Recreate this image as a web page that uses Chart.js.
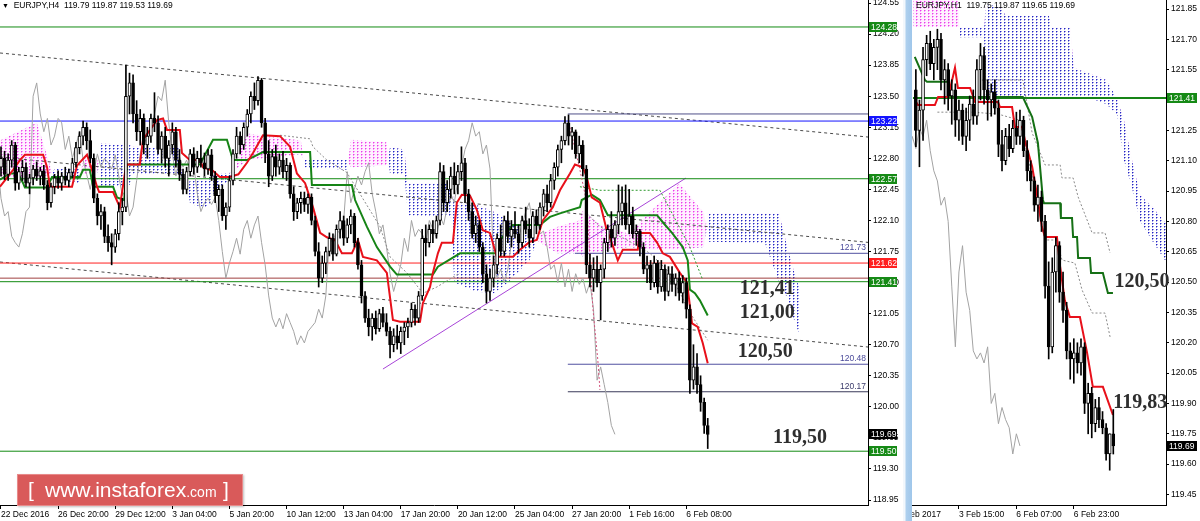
<!DOCTYPE html>
<html><head><meta charset="utf-8">
<script src="https://cdn.jsdelivr.net/npm/chart.js@4.4.1/dist/chart.umd.min.js"></script>
<style>
html,body{margin:0;padding:0;background:#fff;width:1200px;height:521px;overflow:hidden;position:relative;}
#cR{position:absolute;left:895px;top:0;z-index:1}
#mask{position:absolute;left:895px;top:0;width:8px;height:521px;background:#fff;z-index:2}
#cL{position:absolute;left:0;top:0;z-index:3}
#sep{position:absolute;left:903px;top:0;width:9px;height:521px;background:linear-gradient(to right,#f2f7fc 0,#f2f7fc 2px,#aed0ee 3px,#9fc6ea 100%);z-index:4}
.title{position:absolute;top:0;color:#000;z-index:5;white-space:pre;line-height:11px}
#wm{position:absolute;left:17px;top:474px;width:226px;height:32px;background:#d95a5a;border:1px solid #e88a8a;box-sizing:border-box;z-index:6;color:#fff;font-family:"Liberation Sans",Arial,sans-serif;box-shadow:1px 1px 2px rgba(0,0,0,0.25)}
#wm span{position:absolute;top:4px;font-size:21px;line-height:22px}
</style></head><body>
<canvas id="cL" width="903" height="521"></canvas>
<canvas id="cR" width="305" height="521"></canvas>
<div id="mask"></div><div id="sep"></div>
<div class="title" id="tL" style="left:2px"><span style="font-size:7px">▼</span>  EURJPY,H4  119.79 119.87 119.53 119.69</div>
<div class="title" id="tR" style="left:916px">EURJPY,H1  119.75 119.87 119.65 119.69</div>
<div id="wm"><span style="left:10px">[</span><span style="left:27px">www.instaforex<span style="position:static;font-size:14px">.com</span></span><span style="left:205px">]</span></div>
<script>
// ---------------- LEFT (H4) DATA ----------------
const tickIdxL = [0,16,32,48,64,80,96,112,128,144,160,176,192];
const tickLabL = ["22 Dec 2016","26 Dec 20:00","29 Dec 12:00","3 Jan 04:00","5 Jan 20:00","10 Jan 12:00","13 Jan 04:00","17 Jan 20:00","20 Jan 12:00","25 Jan 04:00","27 Jan 20:00","1 Feb 16:00","6 Feb 08:00"];
const yTicksL = [124.55,124.20,123.85,123.50,123.15,122.80,122.45,122.10,121.75,121.40,121.05,120.70,120.35,120.00,119.65,119.30,118.95];

const openL = [122.70,122.80,122.62,122.78,122.95,122.52,122.65,122.70,122.52,122.58,
122.68,122.60,122.66,122.50,122.30,122.48,122.58,122.52,122.60,122.55,
122.64,122.75,122.92,123.05,123.15,123.00,122.80,122.35,122.15,122.20,
121.92,121.85,121.80,121.95,122.20,122.25,123.50,123.65,123.30,123.10,
123.25,122.95,123.05,123.25,123.20,122.90,123.05,122.80,122.95,123.10,
122.78,122.62,122.45,122.65,122.85,122.70,122.80,122.75,122.68,122.84,
122.60,122.38,122.45,122.15,122.25,122.55,122.85,123.05,122.95,123.15,
123.30,123.50,123.45,123.68,123.20,122.85,122.60,122.82,122.70,122.78,
122.65,122.72,122.40,122.20,122.30,122.35,122.28,122.36,122.10,121.75,
121.45,121.62,121.75,121.90,121.72,122.00,122.10,121.90,122.05,122.15,
121.85,121.60,121.25,121.00,120.90,121.00,120.88,121.05,120.95,120.85,
120.70,120.80,120.72,120.85,120.90,120.95,121.10,121.00,121.25,121.90,
121.85,122.00,121.95,122.10,122.65,122.30,122.45,122.60,122.50,122.65,
122.75,122.40,122.20,121.95,122.05,121.80,121.50,121.30,121.45,121.60,
121.90,121.75,122.10,121.92,122.00,121.95,121.85,122.10,122.00,121.90,
122.15,122.05,122.25,122.40,122.30,122.55,122.70,122.90,123.00,123.20,
123.05,123.10,122.85,122.95,122.68,121.60,121.45,121.55,121.40,121.55,
121.85,122.00,121.90,122.05,122.20,122.30,122.05,122.15,121.95,121.98,
121.80,121.55,121.60,121.40,121.62,121.35,121.55,121.30,121.50,121.38,
121.45,121.28,121.40,121.10,120.30,120.45,120.25,120.05,119.79];
const highL = [122.93,122.88,122.85,123.00,122.98,122.70,122.78,122.75,122.62,122.72,
122.76,122.70,122.72,122.55,122.52,122.62,122.66,122.64,122.70,122.68,
122.80,122.98,123.10,123.22,123.20,123.12,122.85,122.40,122.28,122.25,
122.05,121.95,122.00,122.30,122.35,123.85,123.76,123.74,123.45,123.35,
123.30,123.15,123.30,123.54,123.28,123.10,123.15,123.00,123.20,123.15,
122.90,122.68,122.70,122.90,122.92,122.88,122.95,122.86,122.90,122.90,
122.65,122.50,122.50,122.30,122.60,122.90,123.15,123.10,123.20,123.35,
123.55,123.65,123.72,123.70,123.25,123.00,122.90,122.95,122.85,122.88,
122.80,122.75,122.48,122.35,122.42,122.42,122.40,122.40,122.15,121.85,
121.70,121.80,121.96,121.95,122.05,122.20,122.15,122.12,122.22,122.18,
121.90,121.65,121.30,121.10,121.05,121.08,121.10,121.12,121.05,120.90,
120.88,120.92,120.90,120.95,121.00,121.17,121.15,121.30,122.00,122.05,
122.05,122.10,122.15,122.75,122.72,122.55,122.70,122.75,122.72,122.93,
122.80,122.45,122.30,122.15,122.10,121.85,121.60,121.55,121.70,121.95,
122.05,122.15,122.20,122.10,122.20,122.05,122.15,122.25,122.12,122.20,
122.22,122.30,122.45,122.50,122.62,122.75,122.95,123.05,123.27,123.29,
123.15,123.12,123.05,123.00,122.72,121.72,121.68,121.70,121.60,121.90,
122.05,122.20,122.10,122.50,122.48,122.50,122.45,122.25,122.05,122.00,
121.85,121.70,121.65,121.70,121.65,121.65,121.60,121.58,121.58,121.50,
121.52,121.48,121.45,121.15,120.70,120.60,120.35,120.10,119.87];
const lowL = [122.60,122.56,122.55,122.70,122.44,122.45,122.55,122.48,122.40,122.50,
122.55,122.50,122.45,122.22,122.25,122.40,122.46,122.44,122.50,122.48,
122.58,122.70,122.85,122.95,122.90,122.75,122.30,122.05,122.00,121.85,
121.75,121.60,121.74,121.88,122.05,122.20,123.30,123.20,123.00,122.95,
122.85,122.80,122.98,123.10,122.85,122.75,122.70,122.60,122.85,122.70,
122.55,122.40,122.40,122.60,122.62,122.64,122.70,122.60,122.62,122.55,
122.30,122.20,122.10,122.00,122.20,122.50,122.80,122.85,122.90,123.05,
123.20,123.35,123.40,123.15,122.75,122.48,122.55,122.60,122.62,122.58,
122.55,122.35,122.10,122.12,122.18,122.20,122.18,122.05,121.70,121.35,
121.40,121.50,121.70,121.65,121.70,121.90,121.82,121.85,121.95,121.80,
121.55,121.17,120.95,120.80,120.75,120.82,120.85,120.90,120.80,120.55,
120.62,120.65,120.60,120.70,120.78,120.90,120.92,120.95,121.20,121.70,
121.80,121.85,121.90,122.05,122.20,122.20,122.35,122.40,122.40,122.55,
122.30,122.10,121.90,121.85,121.75,121.40,121.17,121.20,121.35,121.50,
121.70,121.70,121.85,121.80,121.90,121.73,121.80,121.95,121.80,121.85,
121.95,122.00,122.15,122.20,122.25,122.45,122.60,122.75,122.95,122.95,
122.90,122.80,122.75,122.60,121.50,121.35,121.30,121.35,120.98,121.45,
121.75,121.80,121.82,121.95,122.05,122.00,121.95,121.90,121.82,121.70,
121.50,121.40,121.32,121.35,121.28,121.30,121.20,121.25,121.30,121.25,
121.20,121.17,121.00,120.15,120.20,120.15,119.95,119.70,119.53];
const closeL = [122.80,122.62,122.78,122.95,122.52,122.65,122.70,122.52,122.58,122.68,
122.60,122.66,122.50,122.30,122.48,122.58,122.52,122.60,122.55,122.64,
122.75,122.92,123.05,123.15,123.00,122.80,122.35,122.15,122.20,121.92,
121.85,121.80,121.95,122.20,122.25,123.50,123.65,123.30,123.10,123.25,
122.95,123.05,123.25,123.20,122.90,123.05,122.80,122.95,123.10,122.78,
122.62,122.45,122.65,122.85,122.70,122.80,122.75,122.68,122.84,122.60,
122.38,122.45,122.15,122.25,122.55,122.85,123.05,122.95,123.15,123.30,
123.50,123.45,123.68,123.20,122.85,122.60,122.82,122.70,122.78,122.65,
122.72,122.40,122.20,122.30,122.35,122.28,122.36,122.10,121.75,121.45,
121.62,121.75,121.90,121.72,122.00,122.10,121.90,122.05,122.15,121.85,
121.60,121.25,121.00,120.90,121.00,120.88,121.05,120.95,120.85,120.70,
120.80,120.72,120.85,120.90,120.95,121.10,121.00,121.25,121.90,121.85,
122.00,121.95,122.10,122.65,122.30,122.45,122.60,122.50,122.65,122.75,
122.40,122.20,121.95,122.05,121.80,121.50,121.30,121.45,121.60,121.90,
121.75,122.10,121.92,122.00,121.95,121.85,122.10,122.00,121.90,122.15,
122.05,122.25,122.40,122.30,122.55,122.70,122.90,123.00,123.20,123.05,
123.10,122.85,122.95,122.68,121.60,121.45,121.55,121.40,121.55,121.85,
122.00,121.90,122.05,122.20,122.30,122.05,122.15,121.95,121.98,121.80,
121.55,121.60,121.40,121.62,121.35,121.55,121.30,121.50,121.38,121.45,
121.28,121.40,121.10,120.30,120.45,120.25,120.05,119.79,119.69];

const tenkanIdxL = [-0.28,3.4,5.3,6.7,11.8,12.9,13.7,19.9,21.3,24.1,25.8,26.9,27.5,31.4,33.3,34.7,35.3,38.9,39.8,43.7,45.4,46.5,50.1,50.7,52.9,55.7,56.6,59.4,61.3,64.1,66.5,68.9,70.6,73.4,78.2,81,82.9,85.2,87.4,89.4,91.3,93.6,95.5,98.3,100,101.4,105.3,108.1,109.8,111.8,117.4,118.2,120.2,121,122.4,123.5,126.6,127.7,129.1,131.4,133.3,135,137,138.9,143.4,145.4,148.2,150.1,151.8,154.6,156.6,159.4,160.8,163,164.1,165.5,167.8,169.7,170.6,172.8,174.2,178.4,179,181.8,183.8,185.4,187.4,190.2,192.2,193.6,195.2,196.6,198];
const tenkanL = [122.48,122.67,122.78,122.84,122.84,122.70,122.48,122.48,122.72,122.84,122.63,122.48,122.42,122.42,122.25,122.63,122.73,122.73,123.01,123.23,123.25,123.12,123.12,122.86,122.78,122.78,122.70,122.66,122.59,122.59,122.62,122.75,122.86,123.06,123.05,122.93,122.63,122.52,122.25,121.96,121.91,121.88,121.73,121.73,121.88,121.69,121.65,121.51,120.98,120.96,120.96,121.17,121.35,121.51,121.73,121.85,121.85,122.30,122.39,122.38,122.22,121.99,121.96,121.69,121.69,121.77,121.86,121.88,122.10,122.25,122.44,122.63,122.73,122.70,122.59,122.36,122.30,121.99,121.91,121.65,121.77,121.77,121.96,121.96,121.85,121.73,121.69,121.51,121.40,120.94,120.90,120.72,120.49];
const kijunIdxL = [-0.28,2.5,4.8,6.2,6.7,12.9,14.3,22.1,23,24.9,25.8,31.4,32.5,34.5,35.3,55.7,59.4,63.3,65,68.9,73.4,86.6,87.1,98.3,99.2,102.5,105.3,109,110.9,121,122.4,128.6,138.9,139.8,143.4,151,153.8,156.6,162.2,162.7,164.1,165.5,167.8,170,183.8,185.4,188,191,192.4,193,194.4,195.8,198];
const kijunL = [122.56,122.63,122.63,122.52,122.47,122.47,122.59,122.59,122.67,122.67,122.48,122.48,122.36,122.33,122.73,122.73,123.01,123.01,122.78,122.78,122.87,122.87,122.50,122.50,122.33,122.03,121.80,121.58,121.49,121.49,121.58,121.73,121.73,121.88,122.05,122.05,122.14,122.18,122.25,122.33,122.36,122.39,122.33,122.16,122.16,122.08,121.96,121.80,121.65,121.32,121.28,121.20,121.03];

const cloudIdxL = [-0.3,10,12,14,15,22,23,27,28,36,37,50,51,52,53,58,60,65,67,69,84,85,97,98,108,109,113,114,126,127,133,138,142,148,151,156,162,163,168,176,182,190,197,198,214,218,220,222,224];
const spanAL = [123.0,123.2,122.95,122.68,122.56,122.52,122.80,122.78,122.48,122.50,122.63,122.63,122.58,122.56,122.28,122.25,122.45,122.56,122.90,123.08,123.00,122.70,122.67,123.01,122.98,122.62,122.63,122.16,122.14,121.40,121.30,121.28,121.40,121.65,121.95,122.03,122.10,122.22,122.05,121.95,122.20,122.52,122.18,121.86,121.85,121.40,121.25,121.00,120.78];
const spanBL = [122.6,122.56,122.60,122.62,122.68,122.68,122.62,122.64,122.97,122.95,122.93,122.92,122.50,122.48,122.56,122.56,122.62,122.64,122.72,122.78,122.85,122.78,122.78,122.70,122.72,122.93,122.90,122.52,122.52,122.30,122.28,122.20,122.10,121.95,121.85,121.73,121.73,121.69,121.75,121.80,121.77,121.77,121.80,122.18,122.18,122.18,121.85,121.55,121.30];

const dashGrayIdxL1 = [78.2,86.6,87.4,91.3,96.9,106.2,109,113.7,118.2,122.1,128.6];
const dashGrayL1 = [123.06,123.02,122.93,122.78,122.64,122.03,121.69,121.51,121.28,121.35,121.51];
const dashGrayIdxL2 = [164.1,167.8,175.4,181.8,187.4,193,198];
const dashGrayL2 = [122.18,122.03,121.88,121.73,121.51,121.06,120.75];
const dashGreenIdxL = [162.2,167.8,184.6,193,196.6];
const dashGreenL = [122.48,122.44,122.44,121.80,121.43];
const pinkDashIdxL = [159.4,162.2,164.1,165.8,167.2,167.8];
const pinkDashL = [123.15,122.67,122.30,121.12,120.53,120.19];

const levelsL = [124.28,123.30,123.22,122.57,121.73,121.62,121.45,121.41,120.48,120.17,119.50];
const levelStartL = [-0.28,158.8,-0.28,-0.28,160.8,-0.28,-0.28,-0.28,158.8,158.8,-0.28];
const chanStartL = [123.987,122.815,121.632];
const chanEndL = [123.04,121.853,120.674];
const trendIdxL = [107,191.9];
const trendL = [120.426,122.578];

// ---------------- RIGHT (H1) DATA ----------------
const firstBarR = 4;
const tickIdxR = [-1,16,32,48];
const tickLabR = ["3 Feb 2017","3 Feb 15:00","6 Feb 07:00","6 Feb 23:00"];
const yTicksR = [121.85,121.70,121.55,121.40,121.25,121.10,120.95,120.80,120.65,120.50,120.35,120.20,120.05,119.90,119.75,119.60,119.45];
const openR = [121.45,121.25,121.35,121.60,121.68,121.58,121.66,121.70,121.50,121.55,
121.42,121.45,121.30,121.35,121.22,121.30,121.38,121.32,121.55,121.62,
121.45,121.40,121.44,121.36,121.18,121.10,121.22,121.16,121.26,121.22,
121.30,121.15,121.05,121.00,120.88,120.92,120.80,120.48,120.18,120.55,
120.68,120.45,120.36,120.16,120.12,120.15,120.10,120.18,119.90,119.95,
119.80,119.88,119.82,119.78,119.65,119.75];
const highR = [121.55,121.40,121.66,121.72,121.74,121.70,121.75,121.73,121.60,121.58,
121.50,121.48,121.40,121.38,121.36,121.42,121.45,121.60,121.68,121.66,
121.50,121.48,121.50,121.40,121.25,121.26,121.28,121.30,121.34,121.35,
121.32,121.20,121.10,121.02,120.98,120.95,120.83,120.60,120.62,120.72,
120.70,120.55,120.40,120.20,120.22,120.20,120.22,120.20,120.00,119.98,
119.92,119.93,119.86,119.80,119.75,119.87];
const lowR = [121.17,121.07,121.20,121.52,121.55,121.50,121.55,121.45,121.38,121.35,
121.28,121.22,121.20,121.18,121.15,121.20,121.28,121.28,121.40,121.38,
121.30,121.32,121.33,121.12,121.05,121.08,121.12,121.14,121.18,121.18,
121.12,121.00,120.95,120.85,120.80,120.75,120.42,120.12,120.15,120.45,
120.40,120.30,120.12,120.02,120.00,120.05,120.04,119.85,119.75,119.73,
119.76,119.78,119.75,119.62,119.57,119.65];
const closeR = [121.25,121.35,121.60,121.68,121.58,121.66,121.70,121.50,121.55,121.42,
121.45,121.30,121.35,121.22,121.30,121.38,121.32,121.55,121.62,121.45,
121.40,121.44,121.36,121.18,121.10,121.22,121.16,121.26,121.22,121.30,
121.15,121.05,121.00,120.88,120.92,120.80,120.48,120.18,120.55,120.68,
120.45,120.36,120.16,120.12,120.15,120.10,120.18,119.90,119.95,119.80,
119.88,119.82,119.78,119.65,119.75,119.69];
const tenkanIdxR = [3.7,4.6,9.3,10.2,13,14.9,15.7,19.1,20.5,26.9,27.4,30.8,31.6,33.6,34.4,36.4,38,39.1,40,43.3,44.2,45.5,46.9,49.7,51.7,53.3,56.1,58.9];
const tenkanR = [121.40,121.375,121.375,121.415,121.415,121.56,121.46,121.46,121.39,121.39,121.366,121.366,121.267,121.267,121.20,121.07,120.906,120.772,120.723,120.723,120.575,120.41,120.327,120.327,120.15,119.982,119.982,119.843];
const kijunIdxR = [3.7,6.5,7.1,13,13.2,33.8,36.4,38,39.4,39.7,44.2,44.4,47.5,47.8,48.9,49.2,52.5,52.8,56.1,57.5,58.9];
const kijunR = [121.613,121.499,121.49,121.49,121.415,121.415,121.316,121.188,120.906,120.89,120.89,120.817,120.817,120.723,120.723,120.619,120.619,120.545,120.545,120.446,120.446];
const cloudIdxR = [3.2,15.7,16.2,23,23.5,27,29,41,42,47,48,54,57,60,62,64,66.5,70,73.7];
const spanAR = [121.95,121.95,121.71,121.71,121.41,121.41,121.41,121.41,121.41,121.42,121.42,121.40,121.38,121.33,121.10,120.98,120.80,120.70,120.60];
const spanBR = [121.76,121.76,121.76,121.76,121.87,121.87,121.82,121.82,121.76,121.76,121.56,121.52,121.50,121.41,121.30,121.12,120.93,120.87,120.79];
const dash1IdxR = [22.4,33.8,36.4,40.0,44.2,44.7,47.8,49.2,53.1,56.7,58.1];
const dash1R = [121.499,121.499,121.237,121.079,121.079,121.015,121.015,120.921,120.743,120.743,120.644];
const dash2IdxR = [10,20,27,33,36,39.5,40,43.3,44.7,48.3,50.3,53.1,56.7,58.1];
const dash2R = [121.34,121.34,121.33,121.30,121.05,120.75,120.708,120.708,120.609,120.594,120.461,120.347,120.347,120.229];
const levelsR = [121.41];
const levelStartR = [3.2];

// ---------------- helpers ----------------
function hasFont(f){const c=document.createElement('canvas').getContext('2d');c.font='20px monospace';const a=c.measureText('abcdefghij0123.:').width;c.font='20px "'+f+'", monospace';return c.measureText('abcdefghij0123.:').width!==a;}
const NARROW = hasFont('Liberation Sans Narrow');
const AXF = NARROW ? {family:'"Liberation Sans Narrow"', size:10} : {family:'"Liberation Sans"', size:8.5};
document.getElementById('tL').style.font = AXF.size+'px '+AXF.family;
document.getElementById('tR').style.font = AXF.size+'px '+AXF.family;
Chart.defaults.font.family = AXF.family;
Chart.defaults.font.size = AXF.size;

function pts(xs, ys){ return xs.map((x,k)=>({x:x, y:ys[k]})); }
function dotPattern(ctx, rgb, bg){
  const c=document.createElement('canvas'); c.width=4; c.height=3;
  const g=c.getContext('2d');
  if (bg){ g.fillStyle=bg; g.fillRect(0,0,4,3); }
  g.fillStyle='rgba('+rgb+',0.45)'; g.fillRect(2,1,1,1); g.fillRect(1,2,1,1);
  g.fillStyle='rgb('+rgb+')'; g.fillRect(1,1,1,1);
  return ctx.createPattern(c,'repeat');
}
function lineDs(data, color, width, dash, order){
  return {type:'line', data:data, borderColor:color, borderWidth:width, borderDash:dash||[], pointRadius:0, fill:false, tension:0, order:order};
}
function candleSets(open, high, low, close, x0){
  const wick = low.map((l,k)=>({x:x0+k, y:[l, high[k]]}));
  const body = open.map((o,k)=>({x:x0+k, y:[o, close[k]]}));
  return [
    {type:'bar', data:body, barThickness:3, grouped:false, minBarLength:1, borderSkipped:false, borderWidth:1, borderColor:'#000',
     backgroundColor: c => (c.raw && c.raw.y[1] >= c.raw.y[0]) ? '#ffffff' : '#000000', order:0},
    {type:'bar', data:wick, barThickness:1, grouped:false, minBarLength:1, borderWidth:0, backgroundColor:'#000', order:1}
  ];
}
function makeAnnot(cfg){
  return {id:'annot', afterDraw(chart){
    const {ctx, chartArea:a, scales:{x, y}} = chart;
    ctx.save();
    (cfg.small||[]).forEach(s=>{
      ctx.font = AXF.size+'px '+AXF.family; ctx.fillStyle=s.color; ctx.textAlign='right'; ctx.textBaseline='bottom';
      ctx.fillText(s.value.toFixed(2), a.right-2, y.getPixelForValue(s.value)-1);
    });
    (cfg.big||[]).forEach(b=>{
      ctx.font='bold 20px "Liberation Serif", "Times New Roman", serif'; ctx.fillStyle='#2e2e2e'; ctx.textAlign='left'; ctx.textBaseline='middle';
      ctx.fillText(b.text, x.getPixelForValue(b.at), y.getPixelForValue(b.value));
    });
    (cfg.boxes||[]).forEach(b=>{
      const py=Math.round(y.getPixelForValue(b.value));
      ctx.fillStyle=b.bg; ctx.fillRect(a.right+1, py-5, cfg.boxW, 10);
      ctx.fillStyle=b.fg; ctx.font=AXF.size+'px '+AXF.family; ctx.textAlign='left'; ctx.textBaseline='middle';
      ctx.fillText(b.value.toFixed(2), a.right+3, py+0.5);
    });
    ctx.restore();
  }};
}
function scalesCfg(xmin, xmax, ymin, ymax, xt, xl, yt, yw){
  return {
    x:{type:'linear', min:xmin, max:xmax, offset:false, position:'bottom',
       afterBuildTicks:s=>{s.ticks = xt.map(v=>({value:v}));},
       afterFit:s=>{s.height=16; s.paddingLeft=0; s.paddingRight=0;},
       ticks:{autoSkip:false, maxRotation:0, minRotation:0, align:'start', padding:1, color:'#000',
              callback:(v)=>{const k=xt.indexOf(v); return k>=0?xl[k]:'';}},
       grid:{drawOnChartArea:false, drawTicks:true, tickLength:4, color:'#000', offset:false},
       border:{display:true, color:'#000', width:1}},
    y:{type:'linear', min:ymin, max:ymax, position:'right',
       afterBuildTicks:s=>{s.ticks = yt.map(v=>({value:v}));},
       afterFit:s=>{s.width=yw; s.paddingTop=0; s.paddingBottom=0;},
       ticks:{padding:2, color:'#000', callback:v=>Number(v).toFixed(2)},
       grid:{drawOnChartArea:false, drawTicks:true, tickLength:3, color:'#000'},
       border:{display:true, color:'#000', width:1}}
  };
}
const baseOpts = {responsive:false, animation:false, devicePixelRatio:1, events:[], maintainAspectRatio:false,
  layout:{padding:0}, plugins:{legend:{display:false}, tooltip:{enabled:false}}};

const PINK = '236,60,236', BLUE = '36,36,196';
// ---------------- LEFT CHART ----------------
const ctxL = document.getElementById('cL').getContext('2d');
const pinkP = dotPattern(ctxL, PINK, 'rgba(255,215,255,0.35)');
const blueP = dotPattern(ctxL, BLUE, null);
const XMAXL = 242.9;
const levelColL = ['#128a12','#505088','#1414ff','#128a12','#5050a0','#ff2020','#a04040','#128a12','#5050a0','#3a3a5a','#128a12'];
const dsL = [];
dsL.push(...candleSets(openL, highL, lowL, closeL, 0));
dsL.push(lineDs(pts(tenkanIdxL, tenkanL), '#e8101a', 2, null, 2));
dsL.push(lineDs(pts(kijunIdxL, kijunL), '#168416', 2, null, 3));
dsL.push(lineDs(pts(dashGrayIdxL1, dashGrayL1), '#8a8a8a', 1, [2,2], 4));
dsL.push(lineDs(pts(dashGrayIdxL2, dashGrayL2), '#8a8a8a', 1, [2,2], 4));
dsL.push(lineDs(pts(dashGreenIdxL, dashGreenL), '#2e9a2e', 1, [2,2], 4));
dsL.push(lineDs(pts(pinkDashIdxL, pinkDashL), '#d2507a', 1, [2,2], 4));
dsL.push(lineDs(closeL.map((c,k)=>({x:k-26, y:c})), '#a3a3a3', 1, null, 5));
levelsL.forEach((v,k)=>dsL.push(lineDs([{x:levelStartL[k],y:v},{x:XMAXL,y:v}], levelColL[k], 1, null, 6)));
chanStartL.forEach((v,k)=>dsL.push(lineDs([{x:-0.28,y:v},{x:XMAXL,y:chanEndL[k]}], '#4a4a4a', 1, [3,3], 7)));
dsL.push(lineDs(pts(trendIdxL, trendL), '#a844d8', 1, null, 7));
dsL.push({type:'line', data:pts(cloudIdxL, spanAL), borderWidth:0, pointRadius:0, tension:0, order:9,
  fill:{target:'+1', above:pinkP, below:blueP}});
dsL.push({type:'line', data:pts(cloudIdxL, spanBL), borderWidth:0, pointRadius:0, tension:0, order:10, fill:false});

new Chart(ctxL, {type:'line', data:{datasets:dsL},
  options:Object.assign({}, baseOpts, {scales:scalesCfg(-0.28, XMAXL, 118.894, 124.584, tickIdxL, tickLabL, yTicksL, 35)}),
  plugins:[makeAnnot({
    boxW:28,
    small:[{value:121.73,color:'#4a4a9a'},{value:120.48,color:'#4a4a9a'},{value:120.17,color:'#3a3a6a'}],
    big:[{text:'121,41',at:207,value:121.33},{text:'121,00',at:207,value:121.057},{text:'120,50',at:206.4,value:120.618},{text:'119,50',at:216.3,value:119.649}],
    boxes:[{value:124.28,bg:'#168a16',fg:'#fff'},{value:123.22,bg:'#1414ff',fg:'#fff'},{value:122.57,bg:'#168a16',fg:'#fff'},
           {value:121.62,bg:'#ff2020',fg:'#fff'},{value:121.41,bg:'#168a16',fg:'#fff'},{value:119.69,bg:'#000',fg:'#fff'},{value:119.50,bg:'#168a16',fg:'#fff'}]
  })]
});

// ---------------- RIGHT CHART ----------------
const ctxR = document.getElementById('cR').getContext('2d');
const pinkPR = dotPattern(ctxR, PINK, 'rgba(255,215,255,0.35)');
const bluePR = dotPattern(ctxR, BLUE, null);
const XMINR = -1.81, XMAXR = 73.68;
const dsR = [];
dsR.push(...candleSets(openR, highR, lowR, closeR, firstBarR));
dsR.push(lineDs(pts(tenkanIdxR, tenkanR), '#e8101a', 2, null, 2));
dsR.push(lineDs(pts(kijunIdxR, kijunR), '#157015', 2, null, 3));
dsR.push(lineDs(pts(dash1IdxR, dash1R), '#8a8a8a', 1, [2,2], 4));
dsR.push(lineDs(pts(dash2IdxR, dash2R), '#8a8a8a', 1, [2,2], 4));
dsR.push(lineDs(closeR.map((c,k)=>({x:firstBarR+k-26, y:c})), '#a3a3a3', 1, null, 5));
levelsR.forEach((v,k)=>dsR.push(lineDs([{x:levelStartR[k],y:v},{x:XMAXR,y:v}], '#168416', 2, null, 6)));
dsR.push({type:'line', data:pts(cloudIdxR, spanAR), borderWidth:0, pointRadius:0, tension:0, order:9,
  fill:{target:'+1', above:pinkPR, below:bluePR}});
dsR.push({type:'line', data:pts(cloudIdxR, spanBR), borderWidth:0, pointRadius:0, tension:0, order:10, fill:false});

new Chart(ctxR, {type:'line', data:{datasets:dsR},
  options:Object.assign({}, baseOpts, {scales:scalesCfg(XMINR, XMAXR, 119.398, 121.8945, tickIdxR, tickLabR, yTicksR, 34)}),
  plugins:[makeAnnot({
    boxW:30,
    big:[{text:'120,50',at:59.3,value:120.50},{text:'119,83',at:59.0,value:119.902}],
    boxes:[{value:121.41,bg:'#168a16',fg:'#fff'},{value:119.69,bg:'#000',fg:'#fff'}]
  })]
});
</script>
</body></html>
